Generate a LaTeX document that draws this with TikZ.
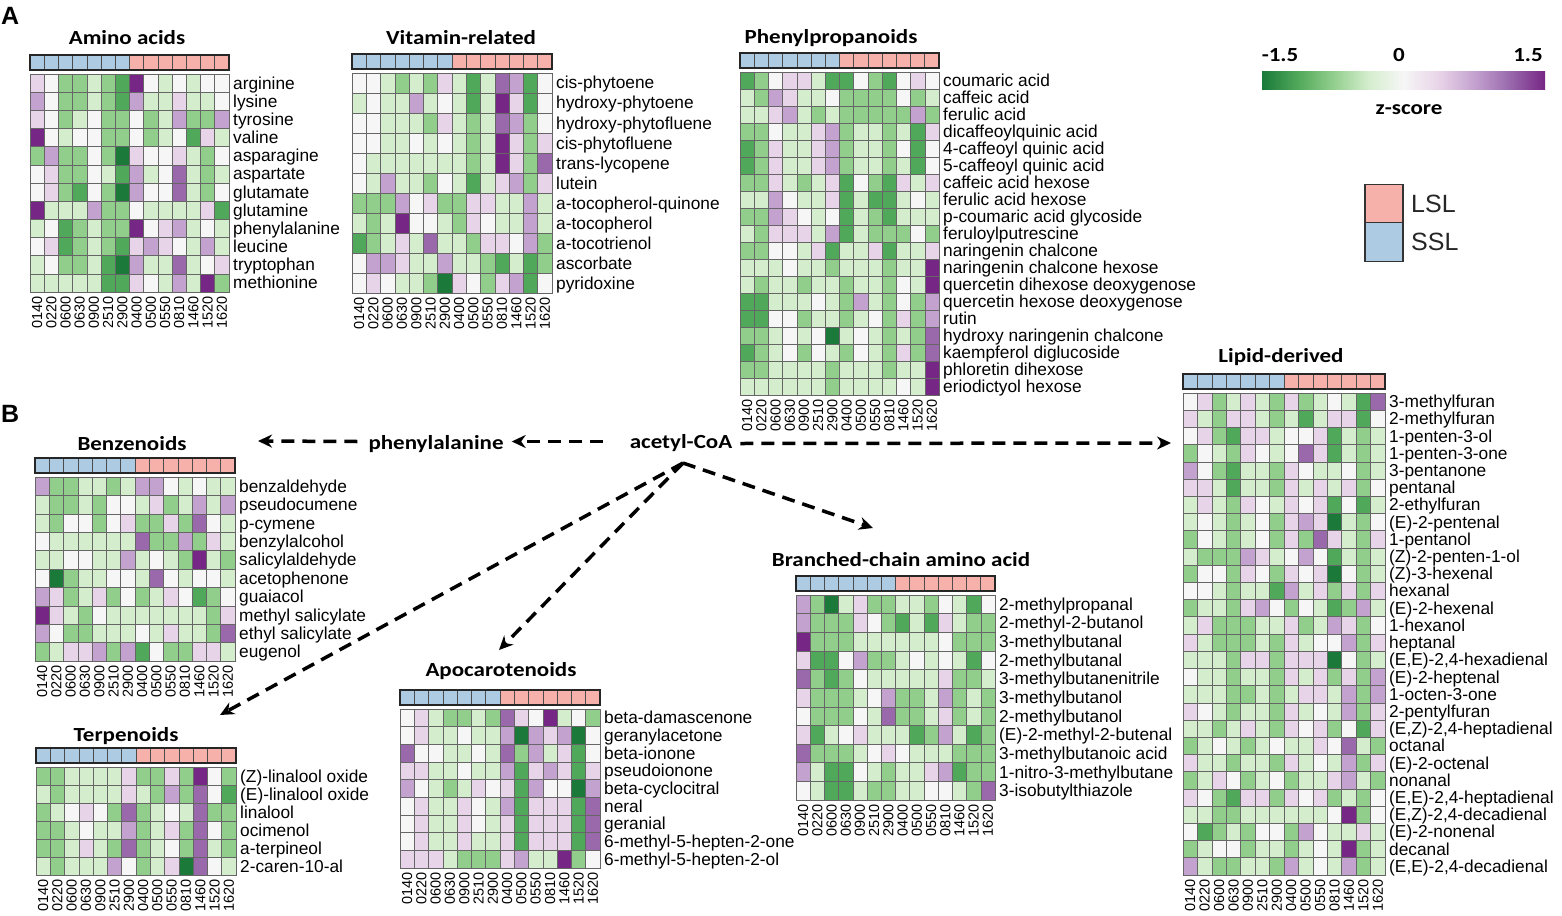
\documentclass[tikz,border=0pt]{standalone}
\usepackage{fontspec}
\setmainfont{Liberation Sans}
\newfontfamily\tfont[FakeStretch=1.15]{Carlito}
\usetikzlibrary{arrows.meta,calc}
\definecolor{h1}{RGB}{27,122,58}
\definecolor{h2}{RGB}{80,168,90}
\definecolor{h3}{RGB}{145,206,140}
\definecolor{h4}{RGB}{212,237,205}
\definecolor{h5}{RGB}{246,246,246}
\definecolor{h6}{RGB}{232,212,232}
\definecolor{h7}{RGB}{196,162,208}
\definecolor{h8}{RGB}{153,105,172}
\definecolor{h9}{RGB}{118,38,132}
\definecolor{sslc}{RGB}{173,203,227}
\definecolor{lslc}{RGB}{246,178,170}
\pgfdeclarehorizontalshading{prgn}{100bp}{color(0bp)=(h1); color(25bp)=(h1); color(31.25bp)=(h2); color(37.5bp)=(h3); color(43.75bp)=(h4); color(50bp)=(h5); color(56.25bp)=(h6); color(62.5bp)=(h7); color(68.75bp)=(h8); color(75bp)=(h9); color(100bp)=(h9)}
\tikzset{
  cell/.style={draw=black!60, line width=0.6pt},
  barcell/.style={draw=black!70, line width=0.7pt},
  barframe/.style={draw=black!85, line width=1.1pt},
  rowlab/.style={anchor=base west, inner sep=0pt, font=\fontsize{17.3}{17.3}\selectfont},
  collab/.style={anchor=east, rotate=90, inner sep=0pt, font=\fontsize{14.5}{14.5}\selectfont},
  htitle/.style={anchor=base, inner sep=0pt, font=\tfont\bfseries\fontsize{20}{20}\selectfont},
  flow/.style={line width=3.5pt, dash pattern=on 13pt off 8pt, -{Stealth[length=14pt,width=13pt]}},
  panel/.style={anchor=base west, inner sep=0pt, font=\bfseries\fontsize{25}{25}\selectfont},
  legbox/.style={draw=black!80, line width=1.1pt, minimum width=38pt, minimum height=38.5pt, inner sep=0pt},
  leglab/.style={anchor=west, inner sep=0pt, font=\fontsize{25}{25}\selectfont, text=black!85},
}
\newcommand{\heatmap}[7]{%
  \pgfmathsetmacro{\cw}{(#3-#2)/14}%
  \foreach \rowd [count=\ri] in {#6} {\xdef\nrows{\ri}}%
  \pgfmathsetmacro{\ch}{(#5-#4)/\nrows}%
  \foreach \rowd [count=\ri] in {#6} {%
    \foreach \v [count=\ci] in \rowd {%
      \filldraw[cell, fill=h\v] ({#2+(\ci-1)*\cw},{#4+(\ri-1)*\ch}) rectangle ++(\cw,\ch);
    }%
  }%
  \foreach \ci in {1,...,7} {\filldraw[barcell, fill=sslc] ({#2+(\ci-1)*\cw},{#4-19}) rectangle ++(\cw,15);}%
  \foreach \ci in {8,...,14} {\filldraw[barcell, fill=lslc] ({#2+(\ci-1)*\cw},{#4-19}) rectangle ++(\cw,15);}%
  \draw[barframe] (#2,{#4-19}) rectangle (#3,{#4-4});%
  \foreach \lab [count=\ri] in {#7} {\node[rowlab] (#1-r\ri) at ({#3+4},{#4+(\ri-0.5)*\ch+6}) {\lab};}%
  \foreach \lab [count=\ci] in {0140,0220,0600,0630,0900,2510,2900,0400,0500,0550,0810,1460,1520,1620} {\node[collab] (#1-c\ci) at ({#2+(\ci-0.5)*\cw},{#5+4}) {\lab};}%
}
\begin{document}
\begin{tikzpicture}[x=1pt,y=-1pt]
\fill[white] (0,0) rectangle (1562,915);
\useasboundingbox (0,0) rectangle (1562,915);

\node[panel] (pA) at (1,25) {A};
\node[panel] (pB) at (1,422) {B};

% ---------- Amino acids
\node[htitle] (t-amino) at (127,45) {Amino acids};
\heatmap{amino}{30}{229}{74}{292}{%
{6,5,3,3,4,3,2,9,5,4,5,4,5,5},
{7,5,3,3,4,3,2,7,4,4,6,4,4,5},
{6,5,3,4,5,3,3,5,3,4,7,3,3,7},
{9,5,4,5,5,3,3,5,3,4,5,2,6,4},
{3,7,3,3,5,3,1,6,5,5,6,4,3,5},
{5,6,3,3,5,4,2,7,4,5,8,4,3,4},
{5,6,3,2,5,3,1,7,5,5,8,4,3,5},
{9,4,4,4,7,3,3,5,4,4,4,4,6,2},
{4,5,2,3,4,3,3,9,5,6,7,4,5,4},
{5,6,2,3,4,3,2,6,7,6,5,4,7,4},
{4,5,3,3,4,2,1,7,4,4,8,4,5,6},
{4,4,4,4,4,2,2,6,5,4,7,4,9,3}}{arginine,lysine,tyrosine,valine,asparagine,aspartate,glutamate,glutamine,phenylalanine,leucine,tryptophan,methionine}

% ---------- Vitamin-related
\node[htitle] (t-vit) at (461,45) {Vitamin-related};
\heatmap{vit}{352}{552}{73}{293}{%
{5,5,4,3,4,3,6,4,2,4,8,7,2,5},
{4,5,4,4,7,4,5,4,2,4,9,6,2,5},
{5,5,4,4,4,3,6,4,3,4,8,7,3,5},
{5,5,4,4,5,4,5,4,3,4,9,6,3,6},
{5,4,4,4,4,4,4,4,3,4,9,6,3,8},
{5,4,7,4,4,3,5,4,2,4,6,7,3,6},
{3,3,3,7,5,6,3,3,6,6,4,4,7,4},
{4,3,4,9,5,5,4,3,6,5,4,4,7,4},
{2,3,4,6,4,8,4,4,3,6,6,5,7,3},
{5,7,7,6,4,4,7,4,4,3,2,4,2,3},
{5,6,5,4,4,3,1,6,5,3,6,7,2,5}}{cis-phytoene,hydroxy-phytoene,hydroxy-phytofluene,cis-phytofluene,trans-lycopene,lutein,a-tocopherol-quinone,a-tocopherol,a-tocotrienol,ascorbate,pyridoxine}

% ---------- Phenylpropanoids
\node[htitle] (t-phen) at (831,44) {Phenylpropanoids};
\heatmap{phen}{740}{939}{72}{395}{%
{2,3,5,6,6,4,2,2,5,3,2,5,6,5},
{4,3,7,6,4,4,5,3,3,3,3,5,3,4},
{4,4,6,7,4,3,4,3,3,3,3,3,7,3},
{3,3,5,4,4,6,7,3,4,4,3,4,2,6},
{2,3,6,4,4,6,7,3,4,4,3,5,2,5},
{2,3,6,4,4,6,7,3,4,4,3,4,2,5},
{3,3,6,4,3,4,6,2,5,3,2,6,4,6},
{4,4,7,5,4,4,6,2,4,2,2,4,5,4},
{3,3,7,6,5,4,5,2,4,3,2,4,4,4},
{4,3,6,6,6,4,7,2,4,3,3,3,5,3},
{3,3,5,5,4,6,2,4,4,6,2,4,4,6},
{4,4,4,5,4,4,3,4,4,4,3,4,4,9},
{4,3,4,4,3,4,4,3,4,4,3,5,4,9},
{2,2,4,4,4,5,4,3,7,4,3,5,3,7},
{2,2,5,5,3,4,4,3,4,5,3,6,3,7},
{3,3,4,5,4,5,1,4,5,4,3,4,3,8},
{2,3,4,5,3,5,4,3,5,4,3,6,3,8},
{3,3,4,4,4,4,3,4,4,4,3,4,4,9},
{4,4,4,4,4,4,3,4,4,4,4,5,4,9}}{coumaric acid,caffeic acid,ferulic acid,dicaffeoylquinic acid,4-caffeoyl quinic acid,5-caffeoyl quinic acid,caffeic acid hexose,ferulic acid hexose,p-coumaric acid glycoside,feruloylputrescine,naringenin chalcone,naringenin chalcone hexose,quercetin dihexose deoxygenose,quercetin hexose deoxygenose,rutin,hydroxy naringenin chalcone,kaempferol diglucoside,phloretin dihexose,eriodictyol hexose}

% ---------- Lipid-derived
\node[htitle] (t-lip) at (1281,362) {Lipid-derived};
\heatmap{lip}{1183}{1385}{393}{875}{%
{5,6,3,4,6,4,3,6,3,4,5,4,2,8},
{6,4,3,6,6,4,3,4,2,4,6,6,2,5},
{5,6,3,2,6,6,4,5,5,6,2,4,3,4},
{3,5,4,3,6,5,4,5,8,6,2,4,3,4},
{7,5,3,2,4,4,3,6,5,4,4,5,3,4},
{6,6,4,2,4,4,3,6,4,6,4,6,3,5},
{4,6,4,3,6,5,4,6,5,6,2,5,2,4},
{4,5,4,3,4,5,3,6,7,6,1,4,3,5},
{3,5,4,3,4,5,3,6,3,8,6,4,3,6},
{4,3,3,3,7,6,4,5,7,5,2,4,3,4},
{3,5,5,3,6,5,3,6,5,6,1,5,3,4},
{5,5,4,3,4,4,2,7,4,6,3,6,3,6},
{3,4,4,3,6,7,5,3,5,4,2,3,7,4},
{4,6,3,3,3,4,4,6,3,4,7,6,3,5},
{6,4,3,3,3,4,3,6,4,5,5,7,3,6},
{4,4,4,3,6,6,3,6,6,6,1,5,3,4},
{5,4,4,3,4,4,3,6,4,6,3,6,3,7},
{4,4,4,3,3,4,3,4,6,6,4,7,3,7},
{6,5,4,3,4,4,3,6,4,5,4,7,3,6},
{4,4,3,4,6,4,3,6,5,6,3,5,2,6},
{3,4,5,4,3,4,5,4,4,6,5,8,4,3},
{6,4,4,3,4,4,3,6,4,5,4,7,3,6},
{3,4,6,5,3,4,5,3,4,4,6,7,4,3},
{6,5,3,2,6,6,3,6,5,6,3,4,3,5},
{4,4,3,3,4,4,4,4,4,4,5,9,3,5},
{5,2,3,4,3,5,5,3,7,5,4,4,6,4},
{3,4,5,5,3,4,4,3,4,5,4,9,3,4},
{7,4,3,3,4,4,3,7,4,5,4,7,3,4}}{3-methylfuran,2-methylfuran,1-penten-3-ol,1-penten-3-one,3-pentanone,pentanal,2-ethylfuran,{(E)-2-pentenal},1-pentanol,{(Z)-2-penten-1-ol},{(Z)-3-hexenal},hexanal,{(E)-2-hexenal},1-hexanol,heptanal,{(E,E)-2,4-hexadienal},{(E)-2-heptenal},1-octen-3-one,2-pentylfuran,{(E,Z)-2,4-heptadienal},octanal,{(E)-2-octenal},nonanal,{(E,E)-2,4-heptadienal},{(E,Z)-2,4-decadienal},{(E)-2-nonenal},decanal,{(E,E)-2,4-decadienal}}

% ---------- Benzenoids
\node[htitle] (t-benz) at (132,450) {Benzenoids};
\heatmap{benz}{35}{235}{477}{661}{%
{7,3,3,4,4,3,4,7,7,5,4,5,4,4},
{4,3,3,4,3,5,5,4,6,3,4,7,4,7},
{4,3,5,5,3,5,6,3,3,6,3,8,5,4},
{5,4,4,4,4,4,4,8,3,3,7,3,6,4},
{4,4,5,5,4,4,7,4,5,4,3,9,4,3},
{5,1,3,4,4,5,5,4,8,5,4,5,5,4},
{7,6,3,4,6,3,5,3,4,6,5,2,3,5},
{9,6,4,3,5,4,4,4,4,4,4,4,3,6},
{7,5,3,3,4,4,4,5,4,6,4,4,3,8},
{3,4,6,6,7,3,7,2,5,3,3,6,6,4}}{benzaldehyde,pseudocumene,p-cymene,benzylalcohol,salicylaldehyde,acetophenone,guaiacol,methyl salicylate,ethyl salicylate,eugenol}

% ---------- Terpenoids
\node[htitle] (t-terp) at (126,741) {Terpenoids};
\heatmap{terp}{36}{236}{767}{875}{%
{3,3,4,4,4,4,6,3,3,6,3,9,5,3},
{4,3,4,4,4,4,6,4,3,7,3,8,5,2},
{3,4,5,6,5,3,8,3,4,5,4,8,3,3},
{3,3,4,5,4,4,7,3,4,6,3,8,5,3},
{3,3,4,6,4,3,8,3,4,5,3,8,4,3},
{4,3,4,4,4,7,5,3,4,6,1,8,5,4}}{{(Z)-linalool oxide},{(E)-linalool oxide},linalool,ocimenol,a-terpineol,2-caren-10-al}

% ---------- Apocarotenoids
\node[htitle] (t-apo) at (501,676) {Apocarotenoids};
\heatmap{apo}{400}{600}{709}{868}{%
{5,6,4,3,3,4,3,8,6,5,9,4,5,3},
{5,6,4,4,5,4,4,7,1,7,6,7,1,5},
{8,5,5,4,4,5,4,8,3,7,4,6,2,5},
{6,6,4,4,5,4,4,7,2,6,7,6,2,6},
{7,5,4,3,4,6,5,6,2,7,5,5,1,7},
{5,6,4,4,6,5,4,7,2,6,6,6,2,8},
{5,6,4,4,6,5,4,6,2,6,6,6,2,8},
{5,6,4,4,6,4,4,6,2,6,6,6,2,8},
{6,6,6,4,3,3,3,6,7,4,4,9,3,5}}{beta-damascenone,geranylacetone,beta-ionone,pseudoionone,beta-cyclocitral,neral,geranial,6-methyl-5-hepten-2-one,6-methyl-5-hepten-2-ol}

% ---------- Branched-chain amino acid
\node[htitle] (t-bca) at (901,566) {Branched-chain amino acid};
\heatmap{bca}{796}{995}{595}{800}{%
{7,3,1,4,6,3,3,4,4,3,5,4,2,5},
{7,3,3,3,6,5,3,2,4,2,6,4,3,3},
{9,3,3,3,4,4,4,4,4,4,5,3,3,3},
{6,2,2,5,7,3,3,4,5,4,5,4,2,5},
{8,3,2,3,5,4,4,4,4,4,6,3,3,4},
{6,3,3,3,4,5,7,3,3,4,7,3,4,3},
{5,3,3,3,5,4,8,3,3,4,6,3,4,3},
{6,2,4,5,6,4,4,4,2,3,7,4,2,3},
{8,3,3,3,4,5,6,5,4,4,4,3,3,3},
{7,4,2,2,5,4,3,4,4,6,7,2,3,3},
{5,4,2,2,4,3,3,4,4,5,5,4,3,8}}{2-methylpropanal,2-methyl-2-butanol,3-methylbutanal,2-methylbutanal,3-methylbutanenitrile,3-methylbutanol,2-methylbutanol,{(E)-2-methyl-2-butenal},3-methylbutanoic acid,1-nitro-3-methylbutane,3-isobutylthiazole}

% ---------- legend
\shade[shading=prgn] (1262,72) rectangle (1545,90);
\node[htitle] (lg-min) at (1280,62) {-1.5};
\node[htitle] (lg-zero) at (1399,62) {0};
\node[htitle] (lg-max) at (1528,62) {1.5};
\node[htitle] (lg-z) at (1409,114) {z-score};
\node[legbox, fill=lslc] (boxL) at (1384,203.5) {};
\node[legbox, fill=sslc] (boxS) at (1384,242) {};
\node[leglab] (labL) at (1411,204) {LSL};
\node[leglab] (labS) at (1411,242) {SSL};

% ---------- pathway
\node[htitle] (acetyl) at (681,448) {acetyl-CoA};
\node[htitle] (phe) at (436,449) {phenylalanine};
\coordinate (src) at (683,463);
\coordinate (tBenz) at (258,441);
\coordinate (tLip) at (1171,443);
\coordinate (tBca) at (873,528);
\coordinate (tApo) at (499,650);
\coordinate (tTerp) at (220,715);
\draw[flow] ($(acetyl.base west)+(-27,-6.5)$) -- ($(phe.base east)+(8,-7.5)$);
\draw[flow] ($(phe.base west)+(-11,-7.5)$) -- (tBenz);
\draw[flow] ($(acetyl.base east)+(8,-4.5)$) -- (tLip);
\draw[flow] (src) -- (tBca);
\draw[flow] (src) -- (tApo);
\draw[flow] (src) -- (tTerp);
\end{tikzpicture}
\end{document}
